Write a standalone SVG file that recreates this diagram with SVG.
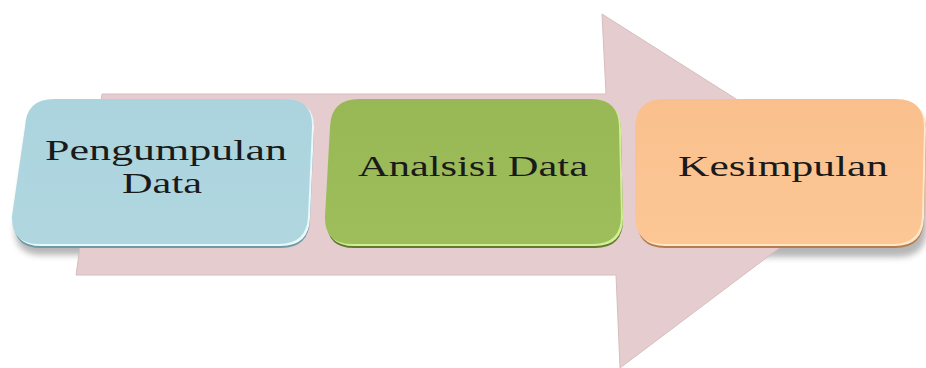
<svg xmlns="http://www.w3.org/2000/svg" xmlns:xlink="http://www.w3.org/1999/xlink" width="926" height="368" viewBox="0 0 926 368">
  <defs>
    <filter id="blur" x="-20%" y="-20%" width="140%" height="140%"><feGaussianBlur stdDeviation="3"/></filter>
    <path id="pBlue" d="M55,101 H286 Q314,101 313,129 L309,218 Q308,246 280,246 H40 Q12,246 13,218 L26,129 Q27,101 55,101 Z"/>
    <path id="pGreen" d="M360,101 H592 Q620,101 620,129 L622,218 Q622,246 594,246 H353 Q325,246 326,218 L331,129 Q332,101 360,101 Z"/>
    <path id="pOrange" d="M665,101 H897 Q925,101 925,129 L923,218 Q922,246 894,246 H664 Q636,246 636,218 L636,129 Q637,101 665,101 Z"/>
    <linearGradient id="gBlue" x1="0" y1="0" x2="0" y2="1"><stop offset="0" stop-color="#acd4de"/><stop offset="1" stop-color="#b0d7e0"/></linearGradient>
    <linearGradient id="gGreen" x1="0" y1="0" x2="0" y2="1"><stop offset="0" stop-color="#98b855"/><stop offset="1" stop-color="#9ebe5c"/></linearGradient>
    <linearGradient id="gOrange" x1="0" y1="0" x2="0" y2="1"><stop offset="0" stop-color="#f9c08d"/><stop offset="1" stop-color="#fcc795"/></linearGradient>
  </defs>
  <style>
    .shadow { fill: #7a7a7a; opacity: 0.55; filter: url(#blur); }
    .arrow { fill: #e5cdcf; stroke: #d8bcbf; stroke-width: 1; }
    .label { font-family: "Liberation Serif", "Times New Roman", serif; font-size: 29px; fill: #1a1a1a; }
  </style>

  <!-- shadows behind the arrow -->
  <g id="shadows">
    <use xlink:href="#pBlue" class="shadow" transform="translate(2,9)"/>
    <use xlink:href="#pOrange" class="shadow" transform="translate(4,11)"/>
  </g>

  <!-- big background arrow -->
  <g id="connectors">
    <path class="arrow" d="M102,94 L606,94 L602,14 L867,182 L620,368 L616,275 L76,275 Z"/>
  </g>

  <g id="node-pengumpulan">
    <use xlink:href="#pBlue" fill="#6f9aa5" transform="translate(1,2)"/>
    <use xlink:href="#pBlue" fill="#e8f8fb" transform="translate(1,0)"/>
    <use xlink:href="#pBlue" fill="url(#gBlue)" transform="translate(-1,-2)"/>
    <text class="label" x="45" y="160" textLength="242" lengthAdjust="spacingAndGlyphs">Pengumpulan</text>
    <text class="label" x="122" y="193" textLength="80" lengthAdjust="spacingAndGlyphs">Data</text>
  </g>

  <g id="node-analisis">
    <use xlink:href="#pGreen" fill="#5f7a2c" transform="translate(1,2)"/>
    <use xlink:href="#pGreen" fill="#d2ef94" transform="translate(1,0)"/>
    <use xlink:href="#pGreen" fill="url(#gGreen)" transform="translate(-1,-2)"/>
    <text class="label" x="358" y="176" textLength="230" lengthAdjust="spacingAndGlyphs">Analsisi Data</text>
  </g>

  <g id="node-kesimpulan">
    <use xlink:href="#pOrange" fill="#b57c4c" transform="translate(1,2)"/>
    <use xlink:href="#pOrange" fill="#ffe6c8" transform="translate(1,0)"/>
    <use xlink:href="#pOrange" fill="url(#gOrange)" transform="translate(-1,-2)"/>
    <text class="label" x="678" y="176" textLength="210" lengthAdjust="spacingAndGlyphs">Kesimpulan</text>
  </g>
</svg>
